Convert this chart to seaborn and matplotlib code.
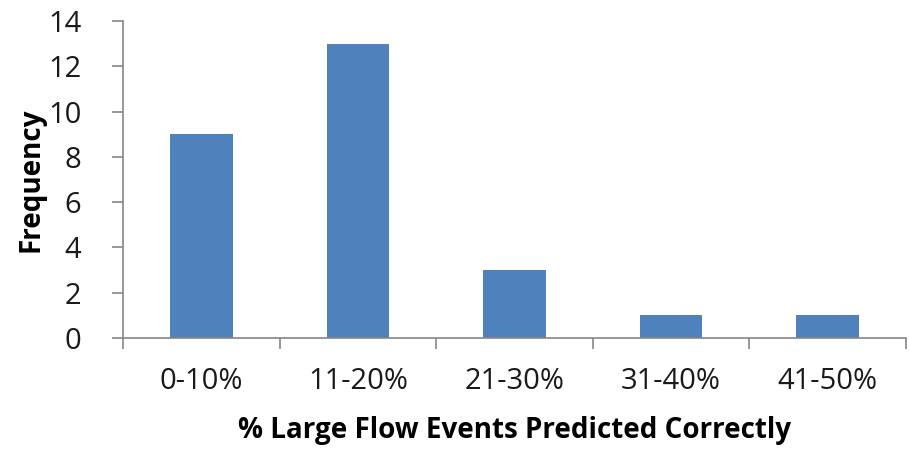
import matplotlib
matplotlib.use("Agg")
import matplotlib.pyplot as plt
import seaborn as sns
import pandas as pd
import numpy as np

categories = ["0-10%", "11-20%", "21-30%", "31-40%", "41-50%"]
frequency = [9, 13, 3, 1, 1]
y_ticks = [0, 2, 4, 6, 8, 10, 12, 14]

sns.set_theme(style="white")
plt.rcParams["font.family"] = ["Open Sans", "DejaVu Sans"]

df = pd.DataFrame({"range": categories, "freq": frequency})

fig = plt.figure(figsize=(9.09, 4.51), dpi=100)
ax = fig.add_axes([123 / 909, 1 - 338 / 451, (906 - 123) / 909, (338 - 21) / 451])

sns.barplot(data=df, x="range", y="freq", color="#4F81BD", width=0.4,
            saturation=1, edgecolor="#4F81BD", linewidth=0, ax=ax)

axis_color = "#868686"
ax.set_xlim(-0.5, len(categories) - 0.5)
ax.set_ylim(0, 14)
ax.set_yticks(y_ticks)
ax.set_yticklabels([str(t) for t in y_ticks])

# category boundaries carry the tick marks, labels sit at the centres
ax.set_xticks(np.arange(len(categories)))
ax.set_xticks(np.arange(-0.5, len(categories)), minor=True)
ax.tick_params(axis="x", which="major", length=0, pad=21, labelsize=21,
               labelcolor="#1a1a1a")
ax.tick_params(axis="x", which="minor", length=8, width=1.2, color=axis_color,
               direction="out", bottom=True)
ax.tick_params(axis="y", length=8, width=1.2, color=axis_color, direction="out",
               left=True, pad=22, labelsize=21, labelcolor="#1a1a1a")

for side in ("top", "right"):
    ax.spines[side].set_visible(False)
for side in ("left", "bottom"):
    ax.spines[side].set_color(axis_color)
    ax.spines[side].set_linewidth(1.2)

ax.set_xlabel("% Large Flow Events Predicted Correctly", fontsize=20,
              fontweight="bold", labelpad=14, color="black")
ax.set_ylabel("Frequency", fontsize=20, fontweight="bold", labelpad=2,
              color="black")
ax.grid(False)

fig.savefig("out.png", dpi=100)
